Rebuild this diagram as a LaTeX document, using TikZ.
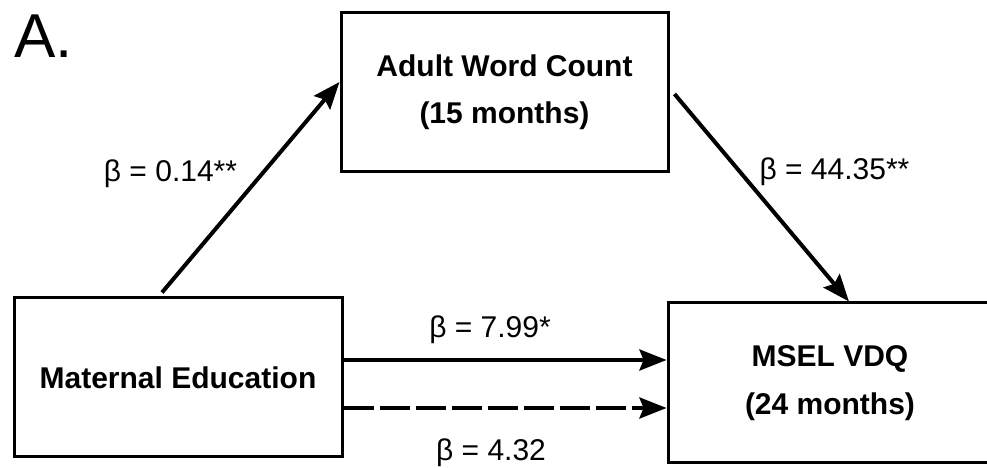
\documentclass[tikz,border=0pt]{standalone}
\usepackage{fontspec}
\setmainfont{Liberation Sans}
\usetikzlibrary{arrows.meta}
\begin{document}
\begin{tikzpicture}[x=1pt,y=1pt,
  boxst/.style={draw=black, line width=3pt, inner sep=0pt, align=center,
    font=\bfseries\fontsize{30}{47}\selectfont},
  lbl/.style={inner sep=0pt, anchor=base, font=\fontsize{30}{36}\selectfont},
  arr/.style={line width=4pt, -{Stealth[length=27pt, width=21pt, inset=4pt]}},
  dasharr/.style={arr, dash pattern=on 30pt off 6pt}]
\clip (0,0) rectangle (987,468);
\useasboundingbox (0,0) rectangle (987,468);
\node[boxst, minimum width=327pt, minimum height=159pt] (awc) at (504.5,375.5)
  {Adult Word Count\\(15 months)};
\node[boxst, minimum width=328pt, minimum height=159pt] (me) at (178,90.5)
  {Maternal Education};
\node[boxst, minimum width=324pt, minimum height=160pt,
  font=\bfseries\fontsize{30}{48}\selectfont] (msel) at (830,85)
  {MSEL VDQ\\(24 months)};
\node[inner sep=0pt, anchor=base west, font=\fontsize{62}{70}\selectfont] (title) at (14,410) {A.};
\coordinate (s1) at ([shift={(-16,4)}]me.north);
\coordinate (e1) at ([yshift=10.5]awc.west);
\coordinate (s2) at ([shift={(5,-1.5)}]awc.east);
\coordinate (e2) at ([xshift=19]msel.north);
\coordinate (s3) at ([yshift=17.5]me.east);
\coordinate (s4) at ([yshift=-30.5]me.east);
\draw[arr] (s1) -- (e1);
\draw[arr] (s2) -- (e2);
\draw[arr] (s3) -- (s3 -| msel.west);
\draw[dasharr] (s4) -- (s4 -| msel.west);
\node[lbl] (l1) at (170.5,286) {β = 0.14**};
\node[lbl] (l2) at (834.5,288) {β = 44.35**};
\node[lbl] (l3) at (490,130) {β = 7.99*};
\node[lbl] (l4) at (491,7) {β = 4.32};
\end{tikzpicture}
\end{document}
